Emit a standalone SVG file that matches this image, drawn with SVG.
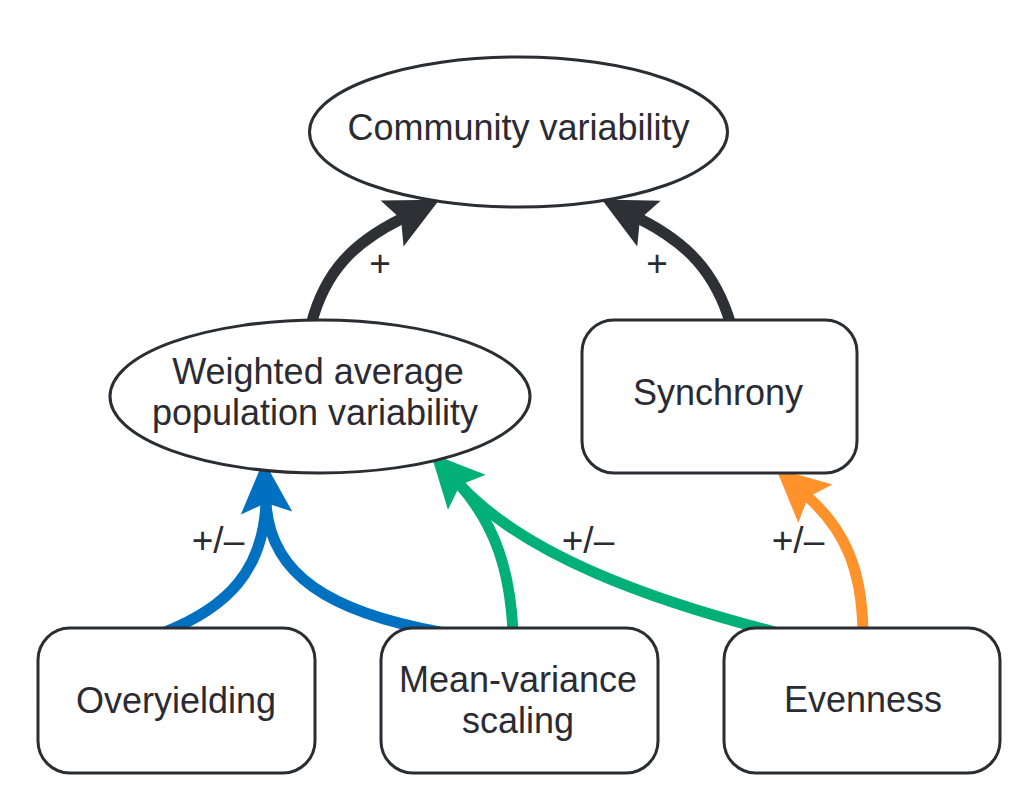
<svg xmlns="http://www.w3.org/2000/svg" width="1032" height="791" viewBox="0 0 1032 791">
<style>
.node{fill:#fff;stroke:#2b2d33;stroke-width:3}
.lbl{font-family:"Liberation Sans",Arial,sans-serif;font-size:36px;fill:#2b2b33;text-anchor:middle}
.sign{font-family:"Liberation Sans",Arial,sans-serif;font-size:37px;fill:#2b2b33;text-anchor:middle}
.conn{fill:none;stroke-width:11}
</style>
<defs>
<marker id="ahK" markerUnits="userSpaceOnUse" markerWidth="60" markerHeight="60" viewBox="-10 -20 42 40" refX="0" refY="0" orient="auto" overflow="visible"><path d="M30,0 L-7,-18 L0,0 L-7,18 Z" fill="#2e3035"/></marker>
<marker id="ahB" markerUnits="userSpaceOnUse" markerWidth="60" markerHeight="60" viewBox="-10 -20 42 40" refX="0" refY="0" orient="auto" overflow="visible"><path d="M30,0 L-7,-18 L0,0 L-7,18 Z" fill="#0070c0"/></marker>
<marker id="ahG" markerUnits="userSpaceOnUse" markerWidth="60" markerHeight="60" viewBox="-10 -20 42 40" refX="0" refY="0" orient="auto" overflow="visible"><path d="M30,0 L-7,-18 L0,0 L-7,18 Z" fill="#00b077"/></marker>
<marker id="ahO" markerUnits="userSpaceOnUse" markerWidth="60" markerHeight="60" viewBox="-10 -20 42 40" refX="0" refY="0" orient="auto" overflow="visible"><path d="M30,0 L-7,-18 L0,0 L-7,18 Z" fill="#ff922b"/></marker>
</defs>
<g id="connectors">
<path class="conn" stroke="#2e3035" d="M311,325 C325,270 355,242 401,219" marker-end="url(#ahK)"/>
<path class="conn" stroke="#2e3035" d="M731,325 C715,270 685,242 640,219" marker-end="url(#ahK)"/>
<path class="conn" stroke="#0070c0" d="M165,632 C228,607 263,570 266,503"/>
<path class="conn" stroke="#0070c0" d="M440,632 C330,612 270,575 266,503" marker-end="url(#ahB)"/>
<path class="conn" stroke="#00b077" d="M513,632 C510,570 495,525 460,485"/>
<path class="conn" stroke="#00b077" d="M775,632 C650,600 525,555 460,485" marker-end="url(#ahG)"/>
<path class="conn" stroke="#ff922b" d="M863,632 C862,570 845,530 808,497" marker-end="url(#ahO)"/>
<text class="sign" x="380" y="276">+</text>
<text class="sign" x="657" y="276">+</text>
<text class="sign" x="218" y="553">+/–</text>
<text class="sign" x="588" y="553">+/–</text>
<text class="sign" x="798" y="553">+/–</text>
</g>
<g id="community">
<ellipse class="node" cx="518.5" cy="132" rx="209" ry="75"/>
<text class="lbl" x="518.5" y="140">Community variability</text>
</g>
<g id="weighted">
<ellipse class="node" cx="320" cy="396.5" rx="210" ry="76.5"/>
<text class="lbl" x="318" y="384">Weighted average</text>
<text class="lbl" x="315" y="425">population variability</text>
</g>
<g id="synchrony">
<rect class="node" x="582" y="320" width="275" height="153" rx="32"/>
<text class="lbl" x="718" y="405">Synchrony</text>
</g>
<g id="overyielding">
<rect class="node" x="38" y="628" width="277" height="145" rx="32"/>
<text class="lbl" x="176" y="713">Overyielding</text>
</g>
<g id="meanvariance">
<rect class="node" x="381" y="628" width="277" height="145" rx="32"/>
<text class="lbl" x="518" y="692">Mean-variance</text>
<text class="lbl" x="518" y="733">scaling</text>
</g>
<g id="evenness">
<rect class="node" x="724" y="628" width="276" height="145" rx="32"/>
<text class="lbl" x="863" y="712">Evenness</text>
</g>
</svg>
